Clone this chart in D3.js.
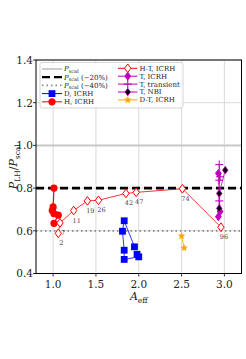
<!DOCTYPE html>
<html><head><meta charset="utf-8">
<script src="https://cdn.jsdelivr.net/npm/d3@7"></script>
<style>body{margin:0;background:#fff}svg{display:block}text{font-family:"DejaVu Serif",serif}</style>
</head><body><svg id="c" width="246" height="359"></svg>
<script>
const xTicks=[1.0,1.5,2.0,2.5,3.0];
const yTicks=[0.4,0.6,0.8,1.0,1.2,1.4];
const refLevels=[1.0,0.8,0.6];
// H, ICRH
const hA=[1.01,1.0,0.99,1.01,1.06,1.01];
const hV=[0.80,0.712,0.695,0.68,0.673,0.635];
// H-T, ICRH
const htA=[1.06,1.08,1.24,1.40,1.53,1.85,1.97,2.51,2.96];
const htV=[0.588,0.637,0.695,0.740,0.743,0.775,0.780,0.797,0.617];
const htLab=["2","7","11","19","26","42","47","74","96"];
// D, ICRH
const dA=[1.95,1.83,1.81,1.83,1.83,2.0,1.98];
const dV=[0.525,0.647,0.598,0.509,0.466,0.478,0.490];
// D-T, ICRH
const dtA=[2.50,2.53];
const dtV=[0.576,0.520];
// T, ICRH
const tA=[2.93,2.95,2.93];
const tV=[0.869,0.690,0.666];
// T, transient
const ttA=[2.94,2.95,2.94,2.94];
const ttV=[0.910,0.853,0.837,0.740];
// T, NBI
const tnA=[3.01,2.94,2.94];
const tnV=[0.884,0.775,0.705];

const svg=d3.select("#c");
const L=36,R=241.5,T=60,B=273.5;
const x=d3.scaleLinear().domain([0.8,3.2]).range([L,R]);
const y=d3.scaleLinear().domain([0.4,1.4]).range([B,T]);
const mag="#bf00bf";

// grid
const g=svg.append("g");
xTicks.forEach(t=>g.append("line").attr("x1",x(t)).attr("x2",x(t)).attr("y1",T).attr("y2",B).attr("stroke","#d0d0d0").attr("stroke-width",0.8));
yTicks.forEach(t=>g.append("line").attr("x1",L).attr("x2",R).attr("y1",y(t)).attr("y2",y(t)).attr("stroke","#d0d0d0").attr("stroke-width",0.8));

// reference lines
const refStyles=[{c:"#c8c8c8",w:2,d:null},{c:"#000",w:2.6,d:"8,4"},{c:"#888",w:1.8,d:"1.5,3"}];
refLevels.forEach((v,i)=>{const s=refStyles[i];
 g.append("line").attr("x1",L).attr("x2",R).attr("y1",y(v)).attr("y2",y(v)).attr("stroke",s.c).attr("stroke-width",s.w).attr("stroke-dasharray",s.d);});

function diamondPath(w,h){return `M0,${-h}L${w},0L0,${h}L${-w},0Z`;}
function starPath(r){const p=[];for(let i=0;i<10;i++){const a=-Math.PI/2+i*Math.PI/5;const rr=i%2?r*0.45:r;p.push([rr*Math.cos(a),rr*Math.sin(a)]);}return "M"+p.map(q=>q.join(",")).join("L")+"Z";}
const line=d3.line().x(d=>x(d[0])).y(d=>y(d[1]));
function series(A,V,color,lw,drawMarker){
 const pts=A.map((a,i)=>[a,V[i]]);
 g.append("path").attr("d",line(pts)).attr("fill","none").attr("stroke",color).attr("stroke-width",lw);
 pts.forEach(p=>drawMarker(g.append("g").attr("transform",`translate(${x(p[0])},${y(p[1])})`)));
}
const mk={
 circle:s=>s.append("circle").attr("r",3.6).attr("fill","red"),
 square:s=>s.append("rect").attr("x",-3.4).attr("y",-3.4).attr("width",6.8).attr("height",6.8).attr("fill","#0000ff"),
 openD:s=>s.append("path").attr("d",diamondPath(3.2,4.3)).attr("fill","#fff").attr("stroke","red").attr("stroke-width",1),
 tD:s=>s.append("path").attr("d",diamondPath(3.4,4.6)).attr("fill",mag),
 plus:s=>{s.append("line").attr("x1",-4).attr("x2",4).attr("stroke",mag).attr("stroke-width",1.1);s.append("line").attr("y1",-4).attr("y2",4).attr("stroke",mag).attr("stroke-width",1.1);},
 nbi:s=>s.append("path").attr("d",diamondPath(2.8,3.8)).attr("fill","#000").attr("stroke",mag).attr("stroke-width",0.8),
 star:s=>s.append("path").attr("d",starPath(4)).attr("fill","#ffa500")
};
series(dA,dV,"#0000ff",0.8,mk.square);
series(dtA,dtV,"#ffa500",0.8,mk.star);
series(tA,tV,mag,0.8,mk.tD);
series(ttA,ttV,mag,0.8,mk.plus);
series(tnA,tnV,mag,0.8,mk.nbi);
series(hA,hV,"red",1.2,mk.circle);
series(htA,htV,"red",0.8,mk.openD);
htA.forEach((a,i)=>g.append("text").attr("x",x(a)+3).attr("y",y(htV[i])+12).attr("font-size",6.5).attr("fill","#444").attr("text-anchor","middle").text(htLab[i]));

// frame
svg.append("rect").attr("x",L).attr("y",T).attr("width",R-L).attr("height",B-T).attr("fill","none").attr("stroke","#000").attr("stroke-width",1);

// axes ticks
xTicks.forEach(t=>{svg.append("line").attr("x1",x(t)).attr("x2",x(t)).attr("y1",B).attr("y2",B+3).attr("stroke","#000").attr("stroke-width",0.8);
 svg.append("text").attr("x",x(t)).attr("y",B+14).attr("font-size",10.5).attr("fill","#222").attr("text-anchor","middle").text(d3.format(".1f")(t));});
yTicks.forEach(t=>{svg.append("line").attr("x1",L-3).attr("x2",L).attr("y1",y(t)).attr("y2",y(t)).attr("stroke","#000").attr("stroke-width",0.8);
 svg.append("text").attr("x",L-3).attr("y",y(t)+3.8).attr("font-size",10.5).attr("fill","#222").attr("text-anchor","end").text(d3.format(".1f")(t));});

// axis labels
const xl=svg.append("text").attr("x",x(2.0)).attr("y",300).attr("font-size",11).attr("text-anchor","middle").attr("fill","#222");
xl.append("tspan").attr("font-style","italic").text("A");
xl.append("tspan").attr("font-size",7.5).attr("dy",2.5).text("eff");
const yl=svg.append("text").attr("transform",`translate(17,${(T+B)/2}) rotate(-90)`).attr("font-size",11).attr("text-anchor","middle").attr("fill","#222");
yl.append("tspan").attr("font-style","italic").text("P");
yl.append("tspan").attr("font-size",7.5).attr("dy",2.5).text("LH");
yl.append("tspan").attr("dy",-2.5).text("/");
yl.append("tspan").attr("font-style","italic").text("P");
yl.append("tspan").attr("font-size",7.5).attr("dy",2.5).text("scal");

// legend
const lg=svg.append("g");
lg.append("rect").attr("x",40).attr("y",62.5).attr("width",143).attr("height",45.5).attr("rx",2).attr("fill","#fff").attr("fill-opacity",0.85).attr("stroke","#ccc").attr("stroke-width",0.8);
const leftItems=[
 {t:"P_scal",suf:"",line:refStyles[0]},
 {t:"P_scal",suf:" (\u221220%)",line:refStyles[1]},
 {t:"P_scal",suf:" (\u221240%)",line:refStyles[2]},
 {t:"D, ICRH",c:"#0000ff",m:mk.square},
 {t:"H, ICRH",c:"red",m:mk.circle}];
const rightItems=[
 {t:"H-T, ICRH",c:"red",m:mk.openD},
 {t:"T, ICRH",c:mag,m:mk.tD},
 {t:"T, transient",c:mag,m:mk.plus},
 {t:"T, NBI",c:mag,m:mk.nbi},
 {t:"D-T, ICRH",c:"#ffa500",m:mk.star}];
function drawItems(items,x0,x1,tx,y0,dy){
 items.forEach((it,i)=>{const yy=y0+i*dy;
  if(it.line){lg.append("line").attr("x1",x0).attr("x2",x1).attr("y1",yy).attr("y2",yy).attr("stroke",it.line.c).attr("stroke-width",it.line.w*0.9).attr("stroke-dasharray",it.line.d);}
  else{lg.append("line").attr("x1",x0).attr("x2",x1).attr("y1",yy).attr("y2",yy).attr("stroke",it.c).attr("stroke-width",1);
   const s=lg.append("g").attr("transform",`translate(${(x0+x1)/2},${yy})`);it.m(s);}
  const t=lg.append("text").attr("x",tx).attr("y",yy+2.4).attr("font-size",7).attr("fill","#222");
  if(it.t==="P_scal"){t.append("tspan").attr("font-style","italic").text("P");t.append("tspan").attr("font-size",5).attr("dy",1.5).text("scal");t.append("tspan").attr("dy",-1.5).text(it.suf);}
  else t.text(it.t);
 });
}
drawItems(leftItems,42,62,64,69,8.2);
drawItems(rightItems,118,137.5,139.5,68.3,7.9);
</script></body></html>
